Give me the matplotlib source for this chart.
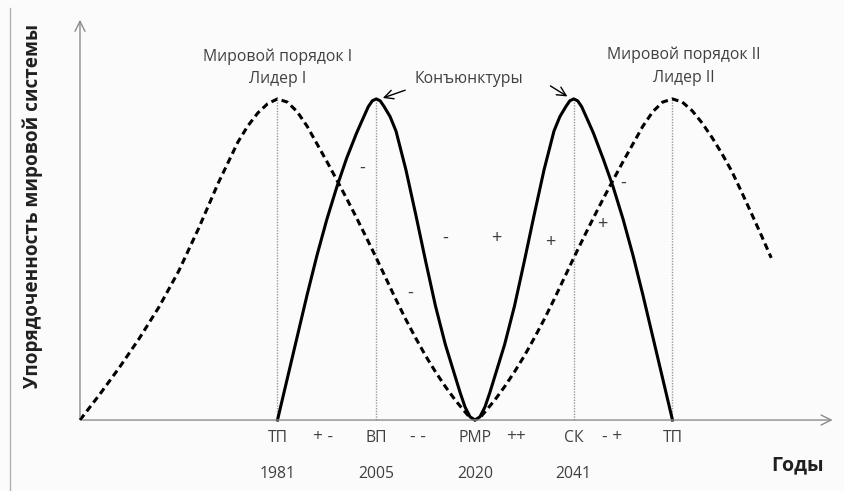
import matplotlib
matplotlib.use("Agg")
import matplotlib.pyplot as plt
from matplotlib.lines import Line2D

# schematic units: 1 unit on x = one stage (ТП, ВП, РМР, СК, ТП at 2..6)
dash_x = [0, 0.2, 0.4, 0.6, 0.8, 1.0, 1.2, 1.4, 1.6, 1.7, 1.8, 1.9, 2.0,
          2.1, 2.2, 2.3, 2.4, 2.5, 2.6, 2.7, 2.8, 2.9, 3.0, 3.1, 3.2, 3.3, 3.4, 3.5,
          3.6, 3.7, 3.8, 3.9, 3.95, 4.0, 4.05, 4.1, 4.2, 4.3, 4.4, 4.5, 4.6, 4.7,
          4.8, 4.9, 5.0, 5.1, 5.2, 5.3, 5.4, 5.5, 5.6, 5.7, 5.8, 5.9, 6.0,
          6.1, 6.2, 6.3, 6.4, 6.5, 6.6, 6.7, 6.8, 6.9, 7.0]
dash_y = [0, 0.08, 0.164, 0.254, 0.352, 0.464, 0.596, 0.738, 0.866, 0.916, 0.956, 0.985, 1.0,
          0.99, 0.96, 0.915, 0.86, 0.805, 0.748, 0.69, 0.63, 0.568, 0.505, 0.44, 0.375, 0.313,
          0.255, 0.2, 0.15, 0.104, 0.062, 0.025, 0.007, 0, 0.007, 0.025, 0.062, 0.104, 0.15,
          0.2, 0.255, 0.313, 0.375, 0.44, 0.505, 0.568, 0.63, 0.69, 0.748, 0.805, 0.86, 0.915,
          0.96, 0.99, 1.0, 0.99, 0.963, 0.925, 0.88, 0.83, 0.775, 0.71, 0.643, 0.575, 0.505]

solid_x = [2.0, 2.1, 2.2, 2.3, 2.4, 2.5, 2.6, 2.7, 2.8, 2.85, 2.92, 2.96, 3.0,
           3.04, 3.08, 3.14, 3.2, 3.3, 3.4, 3.5, 3.6, 3.7, 3.8, 3.85, 3.9, 3.95, 4.0,
           4.05, 4.1, 4.15, 4.2, 4.3, 4.4, 4.5, 4.6, 4.7, 4.8, 4.86, 4.92, 4.96, 5.0,
           5.04, 5.08, 5.15, 5.2, 5.3, 5.4, 5.5, 5.6, 5.7, 5.8, 5.9, 6.0]
solid_y = [0, 0.13, 0.26, 0.39, 0.513, 0.625, 0.725, 0.815, 0.893, 0.928, 0.976, 0.994, 1.0,
           0.994, 0.976, 0.945, 0.9, 0.78, 0.64, 0.495, 0.355, 0.235, 0.135, 0.085, 0.04, 0.01, 0,
           0.01, 0.04, 0.085, 0.135, 0.235, 0.355, 0.495, 0.64, 0.78, 0.9, 0.945, 0.976, 0.994, 1.0,
           0.994, 0.976, 0.928, 0.893, 0.812, 0.725, 0.625, 0.513, 0.39, 0.26, 0.13, 0]

stage_x = [2, 3, 4, 5, 6]
stage_names = ["ТП", "ВП", "РМР", "СК", "ТП"]
stage_years = ["1981", "2005", "2020", "2041", ""]
peak_x = [2, 3, 5, 6]

between_x = [2.46, 3.42, 4.42, 5.39]
between_lbl = ["+ -", "- -", "++", "- +"]

sign_x = [2.86, 3.34, 3.70, 4.22, 4.76, 5.29, 5.50]
sign_y = [0.786, 0.395, 0.567, 0.567, 0.555, 0.61, 0.74]
sign_lbl = ["-", "-", "-", "+", "+", "+", "-"]

plt.rcParams['font.family'] = ['Open Sans', 'DejaVu Sans']

fig = plt.figure(figsize=(8.45, 4.91), dpi=100)
fig.patch.set_facecolor('#fbfbfb')
ax = fig.add_axes([0, 0, 1, 1])
ax.set_facecolor('#fbfbfb')
ax.set_xlim(-0.81, 7.747)
ax.set_ylim(-0.221, 1.308)
ax.axis('off')

gray = '#8c8c8c'
txt = '#404040'
fs = 11.3

# frame line on the left
fig.add_artist(Line2D([10 / 845, 10 / 845], [0, 1 - 8 / 491], color='#b0b0b0', lw=1))

# axes with arrows
ax.annotate("", xy=(0, 1.255), xytext=(0, 0),
            arrowprops=dict(arrowstyle="->", color=gray, lw=1, mutation_scale=18))
ax.annotate("", xy=(7.65, 0), xytext=(0, 0),
            arrowprops=dict(arrowstyle="->", color=gray, lw=1, mutation_scale=18))

for px in peak_x:
    ax.plot([px, px], [0, 1], color='#9a9a9a', lw=1, ls=(0, (1, 1)))

ax.plot(dash_x, dash_y, color='black', lw=2.2, ls=(0, (2.2, 1.4)))
ax.plot(solid_x, solid_y, color='black', lw=2.2, solid_joinstyle='round')

for x, name, yr in zip(stage_x, stage_names, stage_years):
    ax.text(x, -0.055, name, ha='center', va='center', fontsize=fs, color=txt)
    if yr:
        ax.text(x, -0.168, yr, ha='center', va='center', fontsize=fs, color=txt)
for x, l in zip(between_x, between_lbl):
    ax.text(x, -0.052, l, ha='center', va='center', fontsize=12.5, color=txt)
for x, y, l in zip(sign_x, sign_y, sign_lbl):
    ax.text(x, y, l, ha='center', va='center', fontsize=13, color=txt)

ax.text(2.0, 1.131, "Мировой порядок I", ha='center', va='center', fontsize=fs, color=txt)
ax.text(2.0, 1.062, "Лидер I", ha='center', va='center', fontsize=fs, color=txt)
ax.text(6.11, 1.137, "Мировой порядок II", ha='center', va='center', fontsize=fs, color=txt)
ax.text(6.11, 1.065, "Лидер II", ha='center', va='center', fontsize=fs, color=txt)
ax.text(3.94, 1.062, "Конъюнктуры", ha='center', va='center', fontsize=fs, color=txt)

ax.annotate("", xy=(3.04, 1.0), xytext=(3.32, 1.03),
            arrowprops=dict(arrowstyle="->", color='black', lw=1, mutation_scale=16))
ax.annotate("", xy=(4.96, 1.003), xytext=(4.74, 1.045),
            arrowprops=dict(arrowstyle="->", color='black', lw=1, mutation_scale=16))

ax.text(7.27, -0.14, "Годы", ha='center', va='center', fontsize=14, fontweight='bold',
        color='#202020')
fig.text(33 / 845, 1 - 206 / 491, "Упорядоченность мировой системы", rotation=90,
         ha='center', va='center', fontsize=13.6, fontweight='bold', color='#202020')

fig.savefig("out.png", dpi=100, facecolor=fig.get_facecolor())
